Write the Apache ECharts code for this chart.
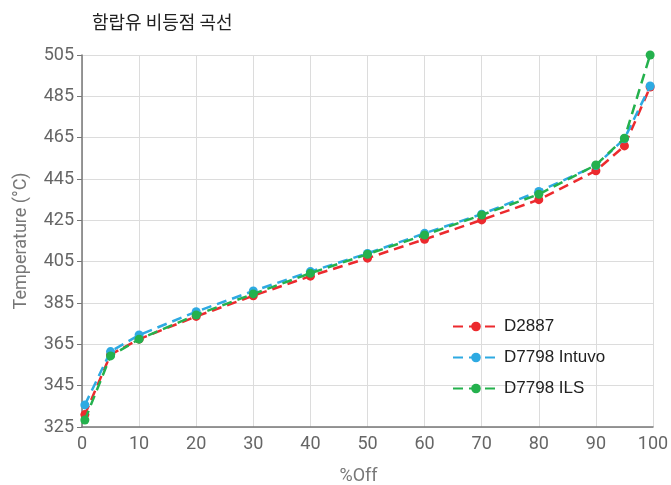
<!DOCTYPE html>
<html>
<head>
<meta charset="utf-8">
<script src="https://cdn.jsdelivr.net/npm/echarts@6/dist/echarts.min.js"></script>
<style>
  html, body { margin: 0; padding: 0; background: #fff; }
  #chart { width: 671px; height: 485px; }
</style>
</head>
<body>
<div id="chart"></div>
<script>
// Boiling point distribution: percent off vs. temperature
const percentOff = [0.5, 5, 10, 20, 30, 40, 50, 60, 70, 80, 90, 95, 99.5];
const d2887 = [331, 360, 367.5, 378.5, 388.5, 398, 406.7, 415.8, 425.2, 435, 449, 461, 489.5];
const d7798Intuvo = [335.7, 361.5, 369.5, 380.8, 390.8, 400.2, 409, 418.7, 428, 439, 451.5, 464.5, 490];
const d7798ILS = [328.4, 359.4, 367.5, 379.2, 389.4, 399.4, 408.6, 417.9, 427.6, 437.6, 451.8, 464.7, 505];
const seriesNames = ['D2887', 'D7798 Intuvo', 'D7798 ILS'];
const seriesColors = ['#ec2a2e', '#2eaae2', '#24b14d'];

const seriesValues = [d2887, d7798Intuvo, d7798ILS];

const chart = echarts.init(document.getElementById('chart'));
chart.setOption({
  animation: false,
  title: {
    text: '함랍유 비등점 곡선',
    left: 87,
    top: 8,
    textStyle: { fontFamily: 'Noto Sans CJK KR', fontSize: 18, fontWeight: 'normal', color: '#222' }
  },
  legend: {
    orient: 'vertical',
    left: 447,
    top: 313,
    itemWidth: 46,
    itemHeight: 12,
    itemGap: 14,
    textStyle: { fontFamily: 'Liberation Sans', fontSize: 17, color: '#222' },
    data: seriesNames
  },
  grid: { left: 82, right: 18, top: 55, bottom: 58, outerBoundsMode: 'none', containLabel: false },
  xAxis: {
    type: 'value',
    min: 0, max: 100, interval: 10,
    name: '%Off',
    nameLocation: 'middle',
    nameGap: 40,
    nameTextStyle: { fontFamily: 'Roboto', fontSize: 18, color: '#777', padding: [0, 18, 0, 0] },
    axisLine: { show: true, lineStyle: { color: '#777', width: 1.5 } },
    axisTick: { show: false },
    axisLabel: { fontFamily: 'Roboto', fontSize: 18, color: '#666', margin: 8 },
    splitLine: { show: true, lineStyle: { color: '#dcdcdc', width: 1 } }
  },
  yAxis: {
    type: 'value',
    min: 325, max: 505, interval: 20,
    name: 'Temperature (°C)',
    nameLocation: 'middle',
    nameGap: 52,
    nameTextStyle: { fontFamily: 'Roboto', fontSize: 18, color: '#777' },
    axisLine: { show: true, lineStyle: { color: '#777', width: 1.5 } },
    axisTick: { show: true, length: 5, lineStyle: { color: '#777' } },
    axisLabel: { fontFamily: 'Roboto', fontSize: 18, color: '#666', margin: 8 },
    splitLine: { show: true, lineStyle: { color: '#dcdcdc', width: 1 } }
  },
  series: seriesNames.map((name, i) => ({
    name: name,
    type: 'line',
    data: percentOff.map((x, j) => [x, seriesValues[i][j]]),
    symbol: 'circle',
    symbolSize: 9,
    color: seriesColors[i],
    lineStyle: { width: 2.5, type: [10, 6], color: seriesColors[i] },
    itemStyle: { color: seriesColors[i] },
    z: 2 + i
  }))
});
</script>
</body>
</html>
